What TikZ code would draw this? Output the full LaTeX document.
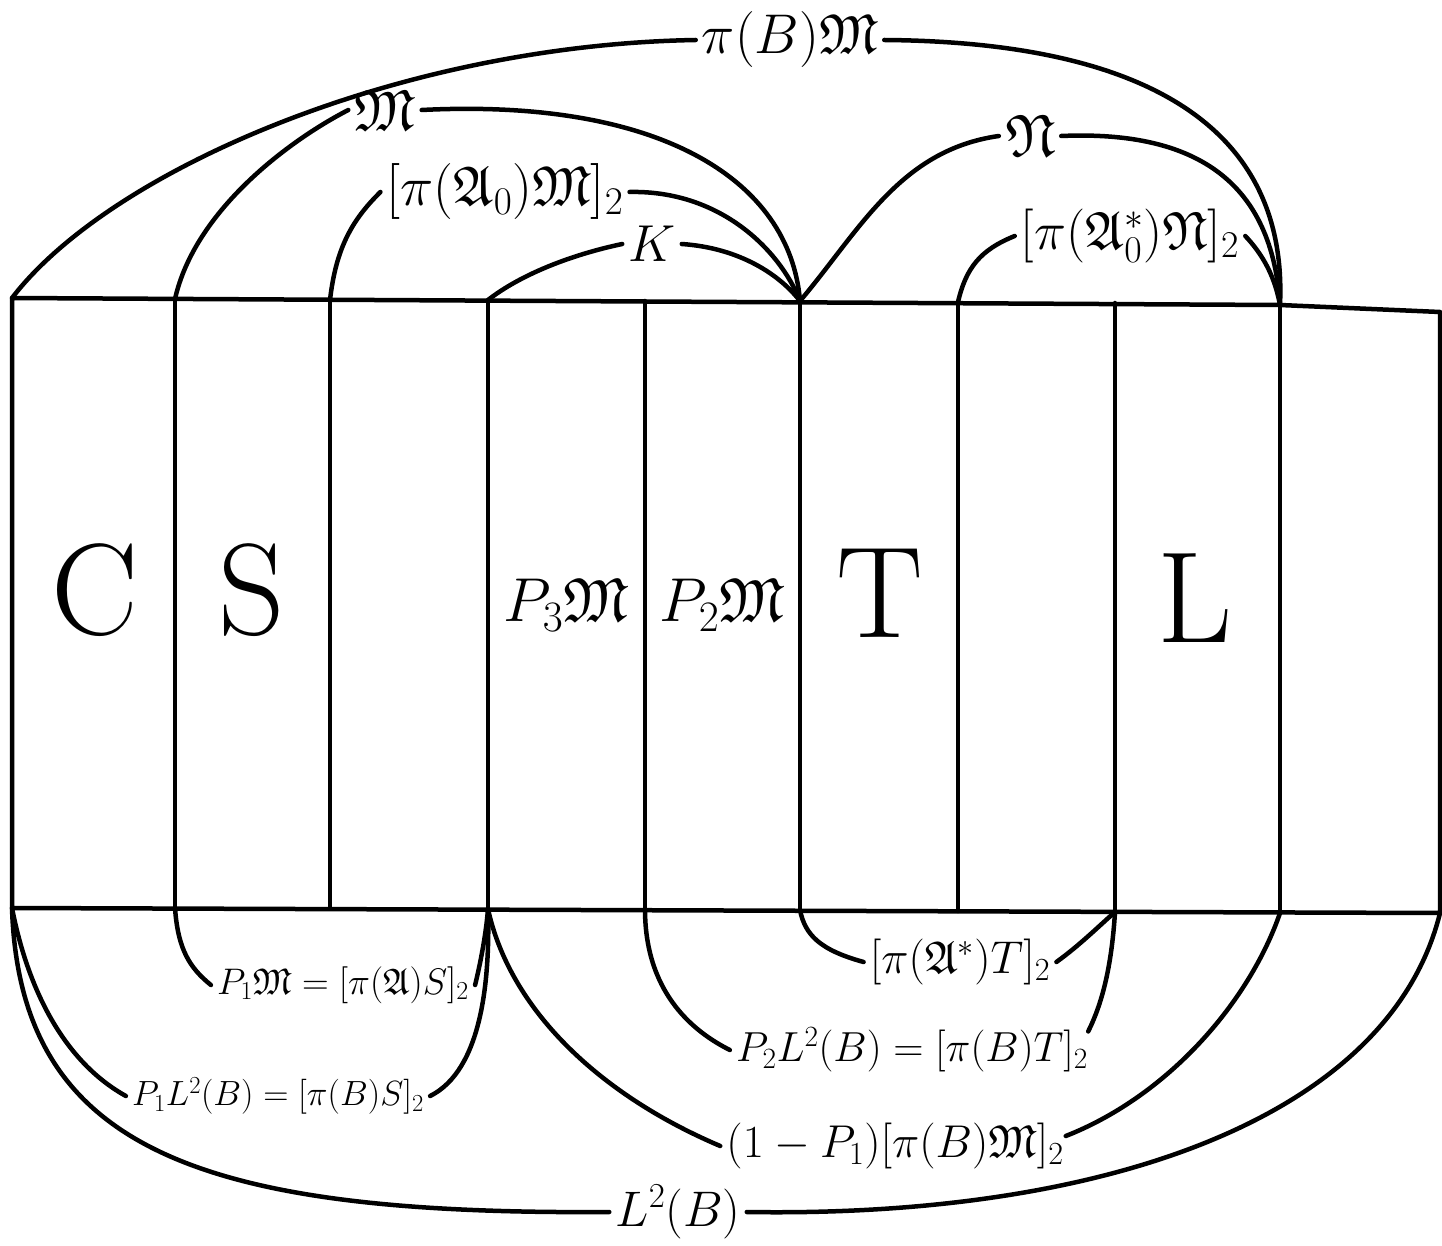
\RequirePackage{fix-cm}
\documentclass[tikz,border=0pt]{standalone}
\usepackage{amssymb}
\newcommand{\fs}[1]{\fontsize{#1}{#1}\selectfont}
\begin{document}
\begin{tikzpicture}[x=1pt,y=-1pt, line width=4.5pt, line cap=round, line join=round,
  lab/.style={inner sep=4pt, font=\fs{52}},
  blab/.style={inner sep=4pt, font=\fs{38}},
  big/.style={inner sep=0pt, font=\fs{130}},
  mid/.style={inner sep=0pt, font=\fs{62}}]
\useasboundingbox (0,0) rectangle (1442,1246);
% corners / divider points
\coordinate (t0) at (12,298);   \coordinate (b0) at (12,908);
\coordinate (t1) at (175,299);  \coordinate (b1) at (175,908);
\coordinate (t2) at (330,300);  \coordinate (b2) at (330,908);
\coordinate (t3) at (488,300);  \coordinate (b3) at (488,909);
\coordinate (t4) at (645,301);  \coordinate (b4) at (645,909);
\coordinate (t5) at (800,301);  \coordinate (b5) at (800,910);
\coordinate (t6) at (958,302);  \coordinate (b6) at (958,911);
\coordinate (t7) at (1115,303); \coordinate (b7) at (1115,912);
\coordinate (t8) at (1280,305); \coordinate (b8) at (1280,913);
\coordinate (t9) at (1440,312); \coordinate (b9) at (1440,913);
% frame
\draw (t0) -- (t8) -- (t9) -- (b9) -- (b0) -- cycle;
\foreach \i in {1,...,8} {\draw (t\i) -- (b\i);}
% cell labels
\node[big] (cC) at (95,590) {C};
\node[big] (cS) at (252,590) {S};
\node[mid] (cP3) at (566,605) {$P_3\mathfrak{M}$};
\node[mid] (cP2) at (722,605) {$P_2\mathfrak{M}$};
\node[big] (cT) at (880,593) {T};
\node[big] (cL) at (1195,598) {L};
% top labels
\node[lab, font=\fs{56}] (pBM) at (790,40) {$\pi(B)\mathfrak{M}$};
\node[lab, font=\fs{58}] (M) at (385,110) {$\mathfrak{M}$};
\node[lab, font=\fs{56}] (A0M) at (505,192) {$[\pi(\mathfrak{A}_0)\mathfrak{M}]_2$};
\node[lab] (K) at (652,244) {$K$};
\node[lab, font=\fs{60}] (N) at (1030,136) {$\mathfrak{N}$};
\node[lab, font=\fs{54}] (A0N) at (1130,236) {$[\pi(\mathfrak{A}_0^*)\mathfrak{N}]_2$};
% bottom labels
\node[blab, font=\fs{37}] (P1M) at (343,985) {$P_1\mathfrak{M}=[\pi(\mathfrak{A})S]_2$};
\node[blab, font=\fs{35}] (P1L) at (278,1096) {$P_1L^2(B)=[\pi(B)S]_2$};
\node[blab, font=\fs{46}] (AsT) at (960,962) {$[\pi(\mathfrak{A}^*)T]_2$};
\node[blab, font=\fs{42}] (P2L) at (912,1050) {$P_2L^2(B)=[\pi(B)T]_2$};
\node[blab, font=\fs{46}] (QM) at (895,1146) {$(1-P_1)[\pi(B)\mathfrak{M}]_2$};
\node[lab, font=\fs{50}] (L2) at (678,1212) {$L^2(B)$};
% top arcs
\draw (t0) .. controls (110,170) and (400,45) .. (pBM.west);
\draw (pBM.east) .. controls (1150,42) and (1288,130) .. (t8);
\draw (t1) .. controls (195,210) and (290,140) .. (M.west);
\draw (M.east) .. controls (660,98) and (790,180) .. (t5);
\draw (t2) .. controls (336,248) and (352,220) .. (A0M.west);
\draw (A0M.east) .. controls (720,190) and (780,250) .. (t5);
\draw (t3) .. controls (520,275) and (570,255) .. (K.west);
\draw (K.east) .. controls (740,248) and (780,275) .. (t5);
\draw (t5) .. controls (860,230) and (900,150) .. (N.west);
\draw (N.east) .. controls (1200,130) and (1272,185) .. (t8);
\draw (t6) .. controls (966,268) and (980,250) .. (A0N.west);
\draw (A0N.east) .. controls (1268,260) and (1276,284) .. (t8);
% bottom arcs
\draw (b1) .. controls (178,950) and (190,968) .. (P1M.west);
\draw (P1M.east) .. controls (480,965) and (486,935) .. (b3);
\draw (b0) .. controls (30,1000) and (70,1065) .. (P1L.west);
\draw (P1L.east) .. controls (482,1070) and (490,980) .. (b3);
\draw (b5) .. controls (805,935) and (820,950) .. (AsT.west);
\draw (AsT.east) .. controls (1080,945) and (1100,925) .. (b7);
\draw (b4) .. controls (645,990) and (690,1030) .. (P2L.west);
\draw ([xshift=-6pt,yshift=-10pt]P2L.north east) .. controls (1104,1000) and (1112,960) .. (b7);
\draw (b3) .. controls (510,1010) and (600,1095) .. (QM.west);
\draw ([xshift=-4pt,yshift=10pt]QM.east) .. controls (1170,1095) and (1250,1000) .. (b8);
\draw (b0) .. controls (20,1150) and (200,1215) .. (L2.west);
\draw (L2.east) .. controls (1110,1218) and (1390,1115) .. (b9);
\end{tikzpicture}
\end{document}
